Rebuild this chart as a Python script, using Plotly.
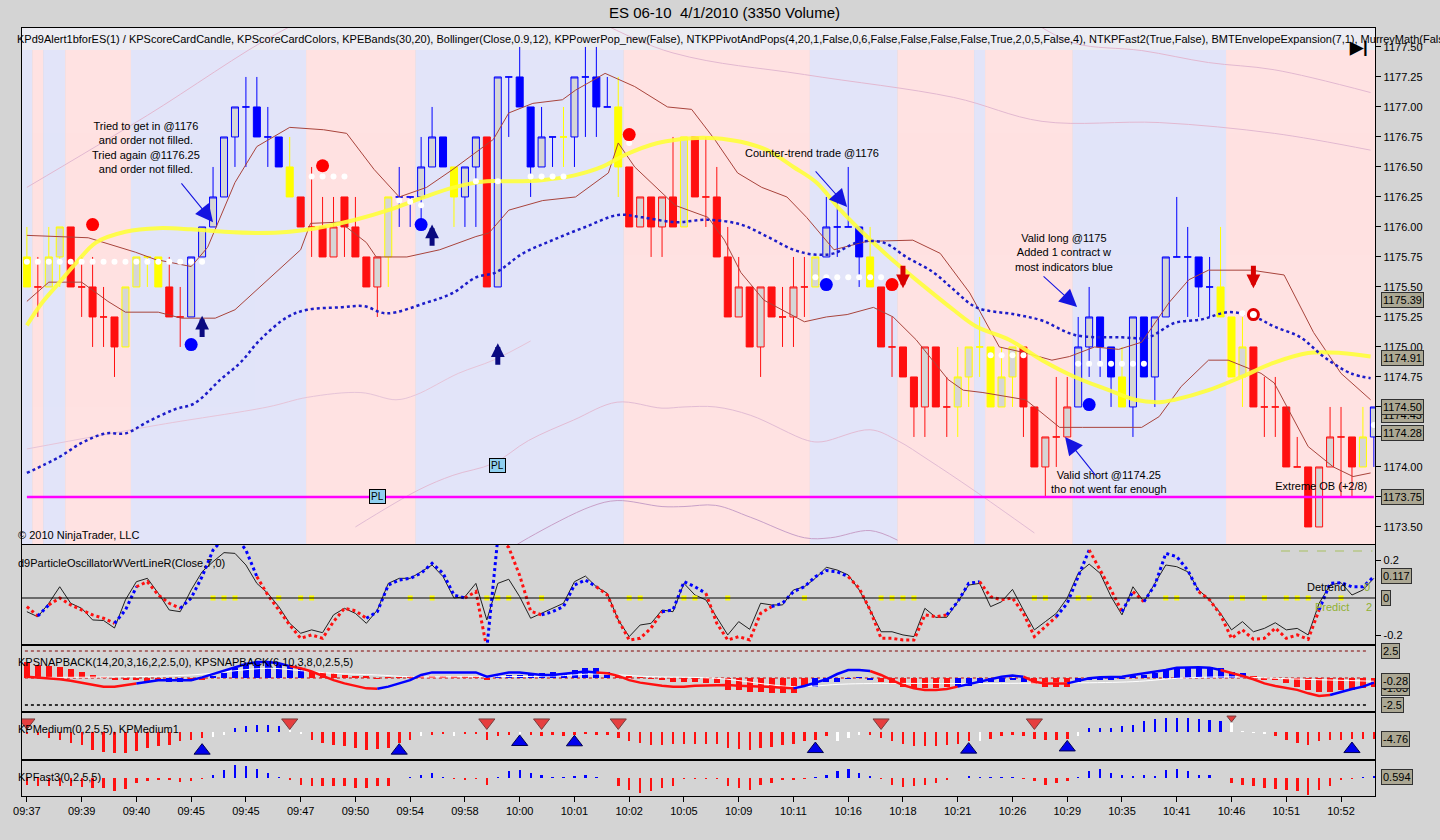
import plotly.graph_objects as go

W, H = 1440, 840
FONT = "Liberation Sans, Arial, sans-serif"

# ---------------- data ----------------
time_labels = ["09:37", "09:39", "09:40", "09:45", "09:45", "09:47", "09:50", "09:54", "09:58", "10:00",
               "10:01", "10:02", "10:05", "10:09", "10:11", "10:16", "10:18", "10:21", "10:26", "10:29",
               "10:35", "10:41", "10:46", "10:51", "10:52"]
time_label_bars = [0, 5, 10, 15, 20, 25, 30, 35, 40, 45, 50, 55, 60, 65, 70, 75, 80, 85, 90, 95,
                   100, 105, 110, 115, 120]

open_ = [1175.75, 1175.50, 1175.50, 1175.75, 1176.00, 1175.50, 1175.50, 1175.25, 1175.25, 1175.00,
         1175.50, 1175.75, 1175.75, 1175.50, 1175.25, 1175.25, 1175.75, 1176.00, 1176.25, 1176.75,
         1177.00, 1177.00, 1176.75, 1176.75, 1176.50, 1176.25, 1176.00, 1176.00, 1175.75, 1176.25,
         1176.00, 1175.75, 1175.50, 1175.75, 1176.25, 1176.25, 1176.25, 1176.50, 1176.75, 1176.50,
         1176.25, 1176.50, 1176.75, 1175.50, 1177.25, 1177.25, 1177.00, 1176.50, 1176.75, 1176.75,
         1176.75, 1177.25, 1177.25, 1177.00, 1177.00, 1176.50, 1176.00, 1176.25, 1176.00, 1176.25,
         1176.00, 1176.75, 1176.25, 1176.25, 1175.75, 1175.25, 1175.50, 1175.00, 1175.50, 1175.25,
         1175.25, 1175.50, 1175.50, 1175.75, 1176.00, 1176.00, 1176.00, 1175.75, 1175.50, 1175.00,
         1175.00, 1174.75, 1174.50, 1175.00, 1174.50, 1174.50, 1174.75, 1175.00, 1175.00, 1174.50,
         1174.75, 1175.00, 1174.50, 1174.00, 1174.25, 1174.25, 1174.50, 1175.00, 1175.25, 1175.00,
         1174.75, 1174.50, 1175.25, 1174.75, 1175.25, 1175.75, 1175.75, 1175.75, 1175.50, 1175.50,
         1175.25, 1174.75, 1175.00, 1174.50, 1174.50, 1174.50, 1174.00, 1174.00, 1173.50, 1174.00,
         1174.25, 1174.25, 1174.00, 1174.25]
high = [1176.00, 1175.75, 1176.00, 1176.00, 1176.00, 1175.75, 1175.75, 1175.50, 1175.25, 1175.50,
        1175.75, 1175.75, 1175.75, 1175.75, 1175.50, 1175.75, 1176.00, 1176.50, 1176.75, 1177.00,
        1177.25, 1177.25, 1177.00, 1176.75, 1176.75, 1176.25, 1176.50, 1176.25, 1176.25, 1176.25,
        1176.25, 1175.75, 1175.75, 1176.25, 1176.50, 1176.25, 1176.75, 1177.00, 1176.75, 1176.50,
        1176.50, 1176.75, 1176.75, 1177.25, 1177.25, 1177.50, 1177.00, 1177.00, 1176.75, 1177.00,
        1177.25, 1177.50, 1177.50, 1177.25, 1177.25, 1176.50, 1176.25, 1176.25, 1176.25, 1176.75,
        1176.75, 1176.75, 1176.75, 1176.50, 1176.00, 1175.75, 1175.50, 1175.50, 1175.50, 1175.50,
        1175.75, 1175.75, 1175.75, 1176.25, 1176.25, 1176.50, 1176.00, 1176.00, 1175.50, 1175.25,
        1175.00, 1174.75, 1175.00, 1175.00, 1174.75, 1175.00, 1175.00, 1175.25, 1175.00, 1175.00,
        1175.00, 1175.00, 1174.50, 1174.25, 1174.75, 1174.75, 1175.25, 1175.50, 1175.25, 1175.00,
        1175.00, 1175.25, 1175.25, 1175.25, 1175.75, 1176.25, 1176.00, 1175.75, 1175.75, 1176.00,
        1175.25, 1175.25, 1175.00, 1174.75, 1174.75, 1174.50, 1174.25, 1174.00, 1174.00, 1174.50,
        1174.50, 1174.25, 1174.50, 1174.50]
low = [1175.50, 1175.25, 1175.50, 1175.50, 1175.50, 1175.25, 1175.00, 1175.00, 1174.75, 1175.00,
       1175.50, 1175.50, 1175.50, 1175.25, 1175.00, 1175.25, 1175.75, 1176.00, 1176.25, 1176.50,
       1176.50, 1176.75, 1176.50, 1176.50, 1176.25, 1176.00, 1175.75, 1175.75, 1175.75, 1175.75,
       1175.75, 1175.50, 1175.25, 1175.50, 1176.00, 1176.00, 1176.00, 1176.50, 1176.50, 1176.00,
       1176.00, 1176.00, 1175.50, 1175.50, 1176.75, 1177.00, 1176.25, 1176.50, 1176.50, 1176.50,
       1176.50, 1176.75, 1176.75, 1177.00, 1176.25, 1176.00, 1176.00, 1175.75, 1175.75, 1176.00,
       1176.00, 1176.25, 1176.00, 1175.75, 1175.25, 1175.25, 1175.00, 1174.75, 1175.25, 1175.00,
       1175.00, 1175.25, 1175.50, 1175.75, 1175.75, 1176.00, 1175.50, 1175.50, 1175.00, 1174.75,
       1174.75, 1174.25, 1174.25, 1174.50, 1174.25, 1174.25, 1174.50, 1174.75, 1174.50, 1174.50,
       1174.50, 1174.25, 1174.00, 1173.75, 1174.00, 1174.25, 1174.50, 1174.75, 1174.75, 1174.50,
       1174.50, 1174.25, 1174.75, 1174.50, 1175.25, 1175.75, 1175.25, 1175.25, 1175.25, 1175.25,
       1174.75, 1174.50, 1174.50, 1174.25, 1174.25, 1174.00, 1174.00, 1173.50, 1173.50, 1174.00,
       1173.75, 1173.75, 1174.00, 1174.00]
close = [1175.50, 1175.50, 1175.75, 1176.00, 1175.50, 1175.50, 1175.25, 1175.25, 1175.00, 1175.50,
         1175.75, 1175.75, 1175.50, 1175.25, 1175.25, 1175.75, 1176.00, 1176.25, 1176.75, 1177.00,
         1177.00, 1176.75, 1176.75, 1176.50, 1176.25, 1176.00, 1176.00, 1175.75, 1176.00, 1176.00,
         1175.75, 1175.50, 1175.75, 1176.25, 1176.25, 1176.25, 1176.50, 1176.75, 1176.50, 1176.25,
         1176.50, 1176.75, 1175.50, 1177.25, 1177.25, 1177.00, 1176.50, 1176.75, 1176.75, 1176.75,
         1177.25, 1177.25, 1177.00, 1177.00, 1176.50, 1176.00, 1176.25, 1176.00, 1176.25, 1176.00,
         1176.75, 1176.25, 1176.25, 1175.75, 1175.25, 1175.50, 1175.00, 1175.50, 1175.25, 1175.25,
         1175.50, 1175.50, 1175.75, 1176.00, 1176.00, 1176.00, 1175.75, 1175.50, 1175.00, 1175.00,
         1174.75, 1174.50, 1175.00, 1174.50, 1174.50, 1174.75, 1175.00, 1175.00, 1174.50, 1174.75,
         1175.00, 1174.50, 1174.00, 1174.25, 1174.25, 1174.50, 1175.00, 1175.25, 1175.00, 1174.75,
         1174.50, 1175.25, 1174.75, 1175.25, 1175.75, 1175.75, 1175.75, 1175.50, 1175.50, 1175.25,
         1174.75, 1175.00, 1174.50, 1174.50, 1174.50, 1174.00, 1174.00, 1173.50, 1174.00, 1174.25,
         1174.25, 1174.00, 1174.25, 1174.50]
# scorecard colour of each candle: r = red, b = blue, y = yellow
candle_col = ("yryyrrrrry" "yyyrrbbbbb" "bbbbyrrrrr" "rrrybbbbby" "bbrbbbbbby" "bbbbyrrrrr"
              "yrrrrrrrrr" "rrybbbbyrr" "rrrrryyyyy" "yrrrrrbbbb" "ybbbbbbbby" "yyrrrrrrrr" "rryb")

# background regime runs (first bar, last bar, b = blue, p = pink)
band_runs = [(0, 0, "b"), (1, 1, "p"), (2, 3, "b"), (4, 9, "p"), (10, 25, "b"), (26, 35, "p"),
             (36, 54, "b"), (55, 71, "p"), (72, 79, "b"), (80, 86, "p"), (87, 87, "b"),
             (88, 95, "p"), (96, 109, "b"), (110, 123, "p")]

# overlay lines on the price panel (bar position, price)
yellow_x = [0, 1.4, 2.9, 4.5, 6.3, 9, 12, 15, 18, 21, 24, 27, 30, 33, 36, 39, 42, 44, 47, 50, 52.5,
            54.6, 57.6, 60.7, 62.8, 65.2, 67.6, 70, 72.1, 74.3, 76.7, 79.1, 81.6, 84.6, 86.7, 89.7,
            92.7, 95.7, 98.8, 101.2, 103.4, 104.8, 107.9, 110.9, 113.9, 117, 120, 122.7]
yellow_y = [1175.18, 1175.37, 1175.53, 1175.70, 1175.87, 1175.96, 1175.99, 1175.98, 1175.96, 1175.95,
            1175.96, 1176.00, 1176.06, 1176.14, 1176.24, 1176.33, 1176.38, 1176.38, 1176.39, 1176.43,
            1176.50, 1176.60, 1176.70, 1176.74, 1176.74, 1176.71, 1176.64, 1176.50, 1176.37, 1176.14,
            1175.92, 1175.72, 1175.53, 1175.31, 1175.17, 1175.06, 1174.89, 1174.75, 1174.64, 1174.56,
            1174.54, 1174.56, 1174.64, 1174.75, 1174.87, 1174.95, 1174.95, 1174.92]
bb_up_x = [0, 2.3, 5.6, 9.9, 11.7, 15, 16.5, 19, 21, 24, 27.1, 29.2, 31.7, 34, 36.5, 38.9, 41, 42.6,
           44, 46.2, 48.9, 50.1, 52.8, 55.5, 58.5, 60.7, 62.8, 64.9, 67.1, 69.4, 71.2, 73.7, 76.7,
           80.9, 83.4, 86.1, 88.8, 91.2, 93.6, 95.2, 97.5, 99.7, 101.8, 104.3, 106.1, 107.9, 111.8,
           114.8, 117.5, 120, 122.7]
bb_up_y = [1175.93, 1175.92, 1175.91, 1175.79, 1175.73, 1175.67, 1175.83, 1176.37, 1176.67, 1176.83,
           1176.81, 1176.78, 1176.48, 1176.25, 1176.33, 1176.48, 1176.62, 1176.73, 1176.95, 1177.03,
           1177.06, 1177.14, 1177.28, 1177.17, 1177.00, 1176.98, 1176.73, 1176.45, 1176.33, 1176.25,
           1176.08, 1175.81, 1175.88, 1175.89, 1175.78, 1175.45, 1175.00, 1174.95, 1174.89, 1174.92,
           1175.00, 1174.98, 1175.04, 1175.37, 1175.56, 1175.64, 1175.64, 1175.60, 1175.12, 1174.78,
           1174.56]
bb_lo_x = [0, 2, 5, 7.4, 9, 12, 14.1, 17.2, 19, 22, 25, 25.9, 28.6, 31, 31.9, 34.7, 37.7, 41, 42.2,
           44, 47.1, 50.1, 53.1, 54, 55.5, 59.2, 62.2, 63.7, 65.2, 67.3, 71, 73, 74.9, 77.3, 79.1,
           81.2, 84.1, 85.5, 87.3, 91.2, 94.3, 96.4, 101.8, 103.4, 105.4, 107.9, 109.7, 112.7, 113.9,
           117, 119.3, 121.1, 122.7]
bb_lo_y = [1175.38, 1175.54, 1175.54, 1175.38, 1175.29, 1175.29, 1175.24, 1175.24, 1175.31, 1175.56,
           1175.81, 1176.03, 1176.04, 1175.87, 1175.75, 1175.75, 1175.81, 1175.92, 1175.95, 1176.14,
           1176.22, 1176.25, 1176.45, 1176.70, 1176.50, 1176.18, 1176.08, 1175.89, 1175.62, 1175.39,
           1175.21, 1175.25, 1175.27, 1175.33, 1175.25, 1175.06, 1174.73, 1174.64, 1174.62, 1174.56,
           1174.33, 1174.33, 1174.33, 1174.42, 1174.67, 1174.89, 1174.89, 1174.78, 1174.70, 1174.17,
           1174.00, 1173.92, 1173.95]
blue_ma_x = [0, 2.9, 5, 7.2, 9, 11.1, 13.5, 15.3, 17.7, 19.5, 21.3, 23.8, 25.6, 28.6, 30.8, 32.8,
             36.5, 38.9, 41, 42.8, 45.3, 48, 51, 54, 56.2, 59.2, 62.2, 65.2, 67.6, 70, 71.9, 73.7,
             75.8, 78.2, 80.3, 82.8, 84.6, 86.7, 90.3, 92.7, 95.7, 100, 102.4, 104.8, 107.3, 109.7,
             112.1, 113.9, 116.3, 118.4, 120.9, 122.7]
blue_ma_y = [1173.95, 1174.08, 1174.20, 1174.28, 1174.28, 1174.38, 1174.48, 1174.53, 1174.73, 1174.87,
             1175.06, 1175.25, 1175.31, 1175.33, 1175.34, 1175.28, 1175.37, 1175.45, 1175.58, 1175.62,
             1175.78, 1175.89, 1176.00, 1176.10, 1176.08, 1176.04, 1176.06, 1176.02, 1175.92, 1175.81,
             1175.77, 1175.78, 1175.87, 1175.87, 1175.75, 1175.62, 1175.48, 1175.33, 1175.27, 1175.22,
             1175.10, 1175.08, 1175.08, 1175.20, 1175.23, 1175.29, 1175.25, 1175.17, 1175.08, 1174.92,
             1174.78, 1174.74]
# faint envelope lines
env_u1_x = [0, 11, 23, 30, 45, 59, 71, 84.6, 92.7, 103.4, 113.9, 122.7]
env_u1_y = [1176.33, 1176.93, 1177.62, 1177.90, 1177.95, 1177.45, 1177.27, 1177.08, 1176.88, 1176.87,
            1176.78, 1176.64]
env_u2_x = [92, 95.7, 101.8, 107.9, 113.9, 122.7]
env_u2_y = [1177.70, 1177.53, 1177.47, 1177.37, 1177.31, 1177.12]
env_l1_x = [0, 12, 22, 25.6, 30.5, 33.7, 35.5, 39.4, 42.6, 46]
env_l1_y = [1174.15, 1174.35, 1174.50, 1174.58, 1174.62, 1174.56, 1174.60, 1174.78, 1174.89, 1175.05]
env_l2_x = [30, 35.8, 38.9, 42.6, 45.8, 49.9, 53.9, 58, 60, 62.9, 66.1, 71.3, 72.6, 77, 79.5, 82.3,
            86.4, 92]
env_l2_y = [1173.50, 1173.81, 1173.93, 1174.03, 1174.22, 1174.39, 1174.54, 1174.49, 1174.50, 1174.50,
            1174.43, 1174.22, 1174.21, 1174.31, 1174.22, 1174.06, 1173.81, 1173.45]
env_l3_x = [43, 45.8, 51.5, 53.9, 58, 60, 62.9, 66.1, 71, 73.4, 77, 79.5]
env_l3_y = [1173.25, 1173.41, 1173.67, 1173.72, 1173.67, 1173.67, 1173.68, 1173.58, 1173.41, 1173.41,
            1173.47, 1173.39]
pivot_level = 1173.75

# signal markers
red_dot_x, red_dot_y = [6, 27, 55, 79], [1176.02, 1176.51, 1176.77, 1175.52]
blue_dot_x, blue_dot_y = [15, 36, 73, 97], [1175.02, 1176.02, 1175.52, 1174.52]
ring_x, ring_y = [112], [1175.27]
stop_dot_x = [0, 1, 2, 3, 4, 5, 6, 7, 8, 9, 10, 11, 12, 13, 14, 15, 16, 26, 27, 28, 29, 34, 35, 36,
              41, 43, 46, 47, 48, 49, 55, 72, 73, 74, 75, 76, 77, 78, 88, 89, 90, 91, 96, 97, 98,
              99, 100, 101, 102, 111, 123]
stop_dot_y = [1175.71] * 17 + [1176.42] * 4 + [1176.22, 1176.21, 1176.18] + [1176.38] * 2 + \
             [1176.42] * 4 + [1176.70] + [1175.58] * 7 + [1174.93] * 4 + [1174.86] * 7 + [1175.28, 1174.35]
up_arrows = [(16, 1175.26, 1175.07), (37, 1176.02, 1175.83), (43, 1175.03, 1174.84)]   # bar, tip, tail
down_arrows = [(80, 1175.49, 1175.69), (112, 1175.49, 1175.69)]
pl_marks = [(43, 1174.01), (32, 1173.75)]
price_tags = [1175.39, 1174.91, 1174.43, 1174.50, 1174.28, 1173.75]

# d9 particle oscillator
osc_line = [-0.073, -0.10, -0.028, 0.06, -0.028, -0.055, -0.117, -0.12, -0.16, -0.01,
            0.087, 0.105, 0.025, -0.064, -0.073, 0.043, 0.14, 0.194, 0.242, 0.238,
            0.176, 0.078, 0.025, -0.046, -0.135, -0.188, -0.17, -0.185, -0.09, -0.055,
            -0.082, -0.135, -0.064, 0.078, 0.105, 0.105, 0.14, 0.176, 0.114, 0.0,
            0.007, 0.078, -0.117, 0.078, 0.10, 0.007, -0.108, -0.082, -0.055, -0.028,
            0.087, 0.117, 0.06, 0.025, -0.117, -0.206, -0.144, -0.135, -0.064, -0.073,
            0.078, 0.016, -0.01, -0.10, -0.197, -0.126, -0.167, -0.028, -0.037, -0.037,
            0.043, 0.06, 0.105, 0.164, 0.149, 0.123, 0.043, -0.064, -0.18, -0.18,
            -0.197, -0.206, -0.055, -0.103, -0.103, -0.02, 0.069, 0.078, -0.046, -0.02,
            0.046, -0.064, -0.17, -0.126, -0.082, 0.0, 0.132, 0.181, 0.132, 0.007,
            -0.09, 0.06, -0.02, 0.078, 0.176, 0.167, 0.14, 0.043, -0.01, -0.082,
            -0.17, -0.126, -0.18, -0.162, -0.132, -0.17, -0.162, -0.197, -0.028, 0.069,
            0.082, 0.016, 0.043, 0.105]
osc_dots = [-0.046, -0.096, -0.037, 0.0, -0.037, -0.064, -0.09, -0.108, -0.135, -0.064,
            0.06, 0.087, 0.016, -0.028, -0.055, 0.0, 0.114, 0.256, 0.32, 0.33,
            0.256, 0.114, 0.016, -0.064, -0.144, -0.215, -0.197, -0.215, -0.126, -0.055,
            -0.068, -0.108, -0.073, 0.069, 0.096, 0.105, 0.132, 0.185, 0.132, 0.016,
            0.0, 0.034, -0.27, 0.32, 0.27, 0.12, -0.07, -0.09, -0.073, -0.046,
            0.069, 0.096, 0.06, 0.016, -0.117, -0.224, -0.215, -0.16, -0.073, -0.064,
            0.087, 0.06, 0.025, -0.135, -0.224, -0.206, -0.224, -0.082, -0.046, -0.028,
            0.034, 0.06, 0.114, 0.146, 0.14, 0.114, 0.052, -0.064, -0.215, -0.215,
            -0.224, -0.224, -0.09, -0.1, -0.09, -0.02, 0.078, 0.087, 0.007, -0.01,
            0.0, -0.082, -0.206, -0.153, -0.1, -0.028, 0.114, 0.256, 0.15, 0.043,
            -0.073, 0.034, -0.02, 0.069, 0.238, 0.22, 0.149, 0.034, -0.01, -0.09,
            -0.215, -0.17, -0.22, -0.215, -0.16, -0.215, -0.197, -0.22, -0.064, 0.078,
            0.082, 0.06, 0.06, 0.114]
osc_dots_col = ("rrbrrrrrrb" "brrrrbbbbb" "bbrrrrrrrr" "rrbbbbbbbb" "brrbrrrrbb" "bbbrrrrrrb"
                "bbbrrrrrrb" "bbbbbbrrrr" "rrrrrbbbrr" "rrrrrbbbrr" "rbrbbbbbrr" "rrrrrrrrrb" "bbbb")
osc_flag_bars = [17, 18, 19, 23, 25, 26, 35, 37, 42, 43, 44, 47, 55, 56, 60, 61, 64, 71, 78, 79, 80,
                 81, 92, 93, 96, 97, 104, 105, 110, 111, 113, 115, 116, 117, 120]

# KPSNAPBACK
snap_hist = [1.5, 1.2, 1.1, 1.05, 0.8, 0.6, 0.28, 0.05, -0.2, -0.2,
             -0.2, -0.25, -0.3, -0.35, -0.4, -0.3, -0.1, 0.2, 0.43, 0.9,
             1.2, 1.4, 1.5, 1.4, 1.2, 0.96, 0.6, 0.6, 0.43, 0.28,
             0.2, 0.12, -0.05, 0.05, 0.06, 0.12, 0.2, 0.2, 0.12, 0.12,
             0.12, 0.12, -0.12, 0.2, 0.28, 0.28, 0.43, 0.43, 0.6, 0.5,
             0.74, 0.96, 0.9, 0.6, 0.12, 0.12, 0.06, -0.05, -0.2, -0.35,
             -0.35, -0.35, -0.43, -0.5, -1.1, -1.1, -1.27, -1.27, -1.36, -1.36,
             -1.42, -0.8, -0.8, -0.34, -0.34, -0.05, 0.05, -0.12, -0.34, -0.5,
             -0.8, -0.96, -0.96, -0.96, -0.8, -0.8, -0.74, -0.5, -0.34, -0.34,
             -0.2, -0.34, -0.56, -0.8, -0.8, -0.8, -0.34, -0.2, -0.12, -0.12,
             -0.05, 0.12, 0.28, 0.43, 0.74, 1.05, 1.05, 1.05, 1.0, 0.9,
             0.6, 0.43, 0.12, -0.12, -0.2, -0.5, -0.8, -1.1, -1.27, -1.27,
             -1.1, -1.1, -0.96, -0.8]
snap_hist_col = ("rrrrrrrrrr" "rrrbbrrbbb" "bbbbbbrrrr" "rrrrrrrrrr" "rrrbbbbbbb" "bbbbrrrrrr"
                 "rrrrrrrrrr" "rrbbbbbbrr" "rrrrrbbbbb" "bbrrrrbbbb" "bbbbbbbbbb" "bbrrrrrrrr" "rrrr")
snap_line = [0.12, 0.06, -0.03, -0.12, -0.25, -0.43, -0.65, -0.8, -0.8, -0.65,
             -0.5, -0.34, -0.2, -0.2, -0.2, -0.2, 0.06, 0.37, 0.68, 1.0,
             1.3, 1.48, 1.48, 1.36, 1.1, 0.9, 0.6, 0.2, -0.2, -0.5,
             -0.74, -0.96, -1.0, -0.8, -0.5, -0.2, 0.28, 0.52, 0.52, 0.5,
             0.5, 0.52, 0.12, 0.34, 0.5, 0.5, 0.37, 0.28, 0.28, 0.37,
             0.5, 0.6, 0.52, 0.43, 0.2, -0.2, -0.43, -0.59, -0.71, -0.8,
             -0.8, -0.71, -0.68, -0.65, -0.65, -0.71, -0.74, -0.8, -0.83, -0.9,
             -0.96, -0.74, -0.43, -0.12, 0.37, 0.74, 0.74, 0.65, 0.28, -0.2,
             -0.65, -0.96, -1.1, -1.1, -1.02, -0.8, -0.56, -0.31, -0.12, 0.12,
             0.22, 0.12, -0.34, -0.5, -0.5, -0.5, -0.25, -0.03, 0.06, 0.12,
             0.12, 0.28, 0.43, 0.59, 0.74, 0.96, 0.99, 0.99, 0.96, 0.74,
             0.5, 0.19, -0.12, -0.5, -0.74, -0.9, -1.1, -1.42, -1.67, -1.58,
             -1.27, -1.02, -0.8, -0.43]
snap_line_col = ("rrrrrrrrrr" "rbbbbbbbbb" "bbbbbrrrrr" "rrrbbbbbbb" "bbbbbbbbbb" "bbbrrrrrrr"
                 "rrrrrrrrrr" "rbbbbbbbrr" "rrrrrrbbbb" "bbrrrrbbbb" "bbbbbbbbbb" "rrrrrrrrrr" "bbbb")
snap_slow_x = [0, 8, 15, 22, 25, 28, 32, 35, 40, 48, 52, 57, 63, 70, 75, 89, 101, 105, 110, 116, 123]
snap_slow_y = [0.05, 0.1, 0.28, 0.9, 0.68, 0.43, 0.28, 0.12, 0.12, 0.18, 0.37, 0.12, -0.03, -0.8,
               -0.55, -0.5, -0.34, -0.03, 0.1, -0.1, -0.3]

# KPMedium
med_vals = [-0.7, -1.8, -4.1, -5.2, -7.5, -8.6, -12, -13.8, -14.3, -14.3,
            -13.2, -10.9, -9.8, -8.6, -6.3, -5.2, -4.1, -3.5, -2.0, 2.7,
            4.3, 5.0, 5.0, 3.9, 1.6, -0.7, -5.2, -7.5, -8.6, -9.8,
            -10.9, -12, -11.6, -10.9, -7.5, -5.2, -2.9, -1.8, -0.7, -2.9,
            -0.7, -0.7, -5.2, -2.9, -1.8, -0.7, -1.8, -2.9, -1.8, -2.5,
            -1.8, -0.7, -1.8, -1.8, -4.1, -6.3, -7.5, -8.6, -8.6, -7.9,
            -7.9, -7.9, -7.9, -7.9, -10.9, -11.6, -12, -10.9, -10.2, -8.6,
            -7.9, -6.3, -5.2, -2.9, -6.0, -4.1, -2.0, -1.8, -4.1, -6.3,
            -7.9, -9.3, -9.8, -9.3, -8.6, -7.9, -6.3, -6.3, -4.8, -2.9,
            -1.8, -2.9, -4.8, -5.2, -5.2, -4.8, -3.0, 2.7, 2.7, 2.7,
            3.9, 5.0, 7.3, 8.8, 9.5, 9.5, 9.5, 8.8, 8.4, 7.3,
            6.1, 0.5, -0.2, -0.7, -2.9, -5.2, -7.5, -8.6, -6.3, -5.2,
            -5.2, -4.8, -4.8, -4.76]
med_col = ("rrrrrrrrrr" "rrrrrrrwwb" "bbbbwwrrrr" "rrrrrrwrrw" "rrrrrwrrrr" "rrrrrrrrrr"
           "rrrrrrrrrr" "rrrrwwwrrr" "rrrrrrrwrr" "rrrrrrwbbb" "bbbbbbbbbb" "wwwwrrrrrr" "rrrr")
med_sell_x, med_sell_y = [0, 24, 42, 47, 54, 78, 92, 110], [6.5, 6.5, 6.5, 6.5, 6.5, 6.5, 6.5, 9.5]
med_buy_x = [16, 34, 45, 50, 72, 86, 95, 121]
med_buy_y = [-12.7, -12.7, -6.8, -7.0, -11.6, -12.0, -10.5, -11.6]

# KPFast3
fast_vals = [-0.33, -0.38, -0.42, -0.42, -0.42, -0.45, -0.5, -0.5, -0.67, -0.55,
             -0.25, -0.17, -0.08, -0.12, -0.22, -0.17, -0.05, 0.17, 0.42, 0.67,
             0.62, 0.45, 0.25, 0.05, -0.08, -0.33, -0.42, -0.42, -0.42, -0.42,
             -0.5, -0.5, -0.42, -0.42, 0.0, 0.05, 0.17, 0.25, 0.05, -0.05,
             -0.12, -0.05, -0.33, 0.05, 0.33, 0.42, 0.25, 0.17, 0.05, 0.05,
             0.12, 0.17, 0.05, 0.0, -0.42, -0.58, -0.75, -0.67, -0.5, -0.42,
             -0.05, -0.05, -0.05, -0.05, -0.42, -0.5, -0.58, -0.33, -0.25, -0.12,
             -0.12, -0.05, 0.05, 0.17, 0.33, 0.45, 0.25, 0.08, -0.05, -0.33,
             -0.45, -0.42, -0.33, -0.25, -0.12, 0.0, 0.08, 0.05, 0.05, 0.05,
             0.05, -0.05, -0.17, -0.33, -0.25, -0.17, 0.05, 0.33, 0.45, 0.25,
             0.17, 0.12, 0.17, 0.12, 0.42, 0.45, 0.33, 0.17, 0.17, 0.0,
             -0.25, -0.33, -0.42, -0.5, -0.55, -0.62, -0.67, -0.83, -0.62, -0.42,
             -0.12, -0.05, 0.05, 0.08]

# ---------------- layout helpers ----------------
bars = list(range(len(close)))
XR = [-0.454, 123.14]
XDOM = [13 / W, 1375 / W]


def py(px):
    return 1 - px / H


def ydom(top, bot):
    return [py(bot), py(top)]


RED, BLUE, YEL, GREY = "#ff1010", "#0000ff", "#ffff00", "#d6d6d6"
cmap = {"r": RED, "b": BLUE, "y": YEL, "w": "#ffffff"}

fig = go.Figure()


def colored_runs(xs, ys, cols, width, dash, xa, ya):
    j = 1
    while j < len(ys):
        c = cols[j]
        k = j
        while k + 1 < len(ys) and cols[k + 1] == c:
            k += 1
        fig.add_trace(go.Scatter(x=xs[j - 1:k + 1], y=ys[j - 1:k + 1], mode="lines",
                                 line=dict(color=cmap[c], width=width, dash=dash),
                                 xaxis=xa, yaxis=ya, hoverinfo="skip"))
        j = k + 1


def faint(xs, ys, color):
    fig.add_trace(go.Scatter(x=xs, y=ys, mode="lines", line=dict(color=color, width=1, shape="spline"),
                             hoverinfo="skip"))


# ---------------- price panel ----------------
faint(env_u1_x, env_u1_y, "#e2b8d0")
faint(env_u2_x, env_u2_y, "#e2b8d0")
faint(env_l1_x, env_l1_y, "#e6c4d8")
faint(env_l2_x, env_l2_y, "#e2bcd4")
faint(env_l3_x, env_l3_y, "#c8a0c8")

fig.add_trace(go.Scatter(x=[bars[0], bars[-1]], y=[pivot_level, pivot_level], mode="lines",
                         line=dict(color="#ff00ff", width=2.5), hoverinfo="skip"))
fig.add_trace(go.Scatter(x=[122.4], y=[1173.83], mode="text", text=["Extreme OB (+2/8)"],
                         textposition="middle left", textfont=dict(family=FONT, size=11, color="black"),
                         hoverinfo="skip"))

for code in "rby":
    idx = [i for i in bars if candle_col[i] == code]
    fig.add_trace(go.Candlestick(
        x=idx, open=[open_[i] for i in idx], high=[high[i] for i in idx],
        low=[low[i] for i in idx], close=[close[i] for i in idx],
        increasing=dict(line=dict(color=cmap[code], width=1), fillcolor=GREY),
        decreasing=dict(line=dict(color=cmap[code], width=1), fillcolor=cmap[code]),
        whiskerwidth=0, hoverinfo="skip", showlegend=False))

fig.add_trace(go.Scatter(x=bb_up_x, y=bb_up_y, mode="lines", line=dict(color="#a8443c", width=1),
                         hoverinfo="skip"))
fig.add_trace(go.Scatter(x=bb_lo_x, y=bb_lo_y, mode="lines", line=dict(color="#a8443c", width=1),
                         hoverinfo="skip"))
fig.add_trace(go.Scatter(x=yellow_x, y=yellow_y, mode="lines",
                         line=dict(color="#ffff3a", width=4, shape="spline"), opacity=0.9, hoverinfo="skip"))
fig.add_trace(go.Scatter(x=blue_ma_x, y=blue_ma_y, mode="lines",
                         line=dict(color="#1c1cc8", width=2.5, dash="dot", shape="spline"), hoverinfo="skip"))

fig.add_trace(go.Scatter(x=stop_dot_x, y=stop_dot_y, mode="markers",
                         marker=dict(color="white", size=6, line=dict(width=0)), hoverinfo="skip"))
fig.add_trace(go.Scatter(x=red_dot_x, y=red_dot_y, mode="markers",
                         marker=dict(color="#ff0000", size=13, line=dict(width=0)), hoverinfo="skip"))
fig.add_trace(go.Scatter(x=blue_dot_x, y=blue_dot_y, mode="markers",
                         marker=dict(color="#0000ff", size=13, line=dict(width=0)), hoverinfo="skip"))
fig.add_trace(go.Scatter(x=ring_x, y=ring_y, mode="markers",
                         marker=dict(color="white", size=10, line=dict(width=3, color="#e00000")),
                         hoverinfo="skip"))

# ---------------- d9 particle oscillator ----------------
fig.add_trace(go.Scatter(x=bars, y=osc_line, mode="lines", line=dict(color="#202020", width=1),
                         xaxis="x2", yaxis="y2", hoverinfo="skip"))
colored_runs(bars, osc_dots, osc_dots_col, 3, "dot", "x2", "y2")
fig.add_trace(go.Scatter(x=osc_flag_bars, y=[0] * len(osc_flag_bars), mode="markers",
                         marker=dict(symbol="square", color=YEL, size=5), xaxis="x2", yaxis="y2",
                         hoverinfo="skip"))

# ---------------- KPSNAPBACK ----------------
fig.add_trace(go.Bar(x=bars, y=snap_hist, width=0.55, marker=dict(color=[cmap[c] for c in snap_hist_col],
                     line=dict(width=0)), xaxis="x3", yaxis="y3", hoverinfo="skip"))
fig.add_trace(go.Scatter(x=snap_slow_x, y=snap_slow_y, mode="lines",
                         line=dict(color="white", width=1, shape="spline"), xaxis="x3", yaxis="y3",
                         hoverinfo="skip"))
colored_runs(bars, snap_line, snap_line_col, 2.5, "solid", "x3", "y3")

# ---------------- KPMedium ----------------
fig.add_trace(go.Bar(x=bars, y=med_vals, width=0.22, marker=dict(color=[cmap[c] for c in med_col],
                     line=dict(width=0)), xaxis="x4", yaxis="y4", hoverinfo="skip"))
fig.add_trace(go.Scatter(x=med_sell_x, y=med_sell_y, mode="markers",
                         marker=dict(symbol="triangle-down", size=[14] * 7 + [8], color="#ee0000",
                                     line=dict(color="#500000", width=1)),
                         xaxis="x4", yaxis="y4", hoverinfo="skip"))
fig.add_trace(go.Scatter(x=med_buy_x, y=med_buy_y, mode="markers",
                         marker=dict(symbol="triangle-up", size=14, color="#0000ee",
                                     line=dict(color="#000050", width=1)),
                         xaxis="x4", yaxis="y4", hoverinfo="skip"))

# ---------------- KPFast3 ----------------
fig.add_trace(go.Bar(x=bars, y=fast_vals, width=0.22,
                     marker=dict(color=[BLUE if v > 0 else RED for v in fast_vals], line=dict(width=0)),
                     xaxis="x5", yaxis="y5", hoverinfo="skip"))

# ---------------- axes ----------------
axis_common = dict(showgrid=False, zeroline=False, showline=True, mirror=True, linecolor="black",
                   linewidth=1, fixedrange=True)
price_ticks = [1173.5 + 0.25 * k for k in range(17)]
fig.update_layout(
    xaxis=dict(domain=XDOM, range=XR, anchor="y", showticklabels=False, rangeslider=dict(visible=False),
               **axis_common),
    xaxis2=dict(domain=XDOM, range=XR, anchor="y2", matches="x", showticklabels=False, **axis_common),
    xaxis3=dict(domain=XDOM, range=XR, anchor="y3", matches="x", showticklabels=False, **axis_common),
    xaxis4=dict(domain=XDOM, range=XR, anchor="y4", matches="x", showticklabels=False, **axis_common),
    xaxis5=dict(domain=XDOM, range=XR, anchor="y5", matches="x", tickvals=time_label_bars,
                ticktext=time_labels, ticks="outside", ticklen=5, tickcolor="black",
                tickfont=dict(family=FONT, size=11, color="black"), **axis_common),
    yaxis=dict(domain=ydom(28, 544), range=[1173.358, 1177.658], anchor="x", side="right",
               tickvals=price_ticks, ticktext=["%.2f" % v for v in price_ticks], ticks="outside",
               ticklen=5, tickcolor="black", tickfont=dict(family=FONT, size=11, color="black"),
               **axis_common),
    yaxis2=dict(domain=ydom(545, 644), range=[-0.2453, 0.2827], anchor="x2", side="right",
                tickvals=[-0.2, 0.2], ticktext=["-0.2", "0.2"], ticks="outside", ticklen=5,
                tickcolor="black", tickfont=dict(family=FONT, size=11, color="black"), **axis_common),
    yaxis3=dict(domain=ydom(646, 711), range=[-3.056, 2.963], anchor="x3", side="right",
                showticklabels=False, **axis_common),
    yaxis4=dict(domain=ydom(713, 759), range=[-18.37, 12.93], anchor="x4", side="right",
                showticklabels=False, **axis_common),
    yaxis5=dict(domain=ydom(761, 796), range=[-0.9, 0.85], anchor="x5", side="right",
                showticklabels=False, **axis_common),
)

# ---------------- shapes ----------------
shapes = []
band_color = {"b": "#e2e4f9", "p": "#ffe2e2"}
for s, e, c in band_runs:
    shapes.append(dict(type="rect", xref="x", yref="y", x0=s - 0.5, x1=e + 0.5, y0=1173.358, y1=1177.475,
                       fillcolor=band_color[c], line=dict(width=0), layer="below"))
shapes.append(dict(type="rect", xref="paper", yref="paper", x0=XDOM[0], x1=XDOM[1], y0=py(50), y1=py(28),
                   fillcolor="#ececf2", line=dict(width=0), layer="below"))
shapes.append(dict(type="line", xref="paper", yref="y2", x0=XDOM[0], x1=XDOM[1], y0=0, y1=0,
                   line=dict(color="black", width=1)))
shapes.append(dict(type="line", xref="paper", yref="y3", x0=16 / W, x1=1368 / W, y0=2.5, y1=2.5,
                   line=dict(color="#800000", width=1, dash="dot")))
shapes.append(dict(type="line", xref="paper", yref="y3", x0=16 / W, x1=1368 / W, y0=0, y1=0,
                   line=dict(color="#c00000", width=1, dash="dot"), layer="below"))
shapes.append(dict(type="line", xref="paper", yref="y3", x0=16 / W, x1=1368 / W, y0=-2.5, y1=-2.5,
                   line=dict(color="#303030", width=2, dash="dot")))
shapes.append(dict(type="line", xref="paper", yref="paper", x0=1280 / W, x1=1372 / W, y0=py(551),
                   y1=py(551), line=dict(color="#a8c060", width=1, dash="dash")))

# ---------------- annotations ----------------
ann = []


def txt(x, y, s, size=11, color="black", xanchor="center", xref="paper", yref="paper", **kw):
    ann.append(dict(x=x, y=y, xref=xref, yref=yref, text=s, showarrow=False, xanchor=xanchor,
                    yanchor="middle", font=dict(family=FONT, size=size, color=color), **kw))


txt(0.5, py(13), "ES 06-10  4/1/2010 (3350 Volume)", size=15)
txt(6 / W, py(39), "KPd9Alert1bforES(1) / KPScoreCardCandle, KPScoreCardColors, KPEBands(30,20), "
    "Bollinger(Close,0.9,12), KPPowerPop_new(False), NTKPPivotAndPops(4,20,1,False,0,6,False,False,"
    "False,False,True,2,0,5,False,4), NTKPFast2(True,False), BMTEnvelopeExpansion(7,1), "
    "MurreyMath(False,Daily)", size=11, xanchor="left")
txt(1358 / W, py(47), "<b>▶|</b>", size=17)
txt(7 / W, py(535), "© 2010 NinjaTrader, LLC", xanchor="left")
txt(7 / W, py(563), "d9ParticleOscillatorWVertLineR(Close,7,0)", xanchor="left")
txt(7 / W, py(662), "KPSNAPBACK(14,20,3,16,2,2.5,0), KPSNAPBACK(6,10,3,8,0,2.5,5)", xanchor="left")
txt(7 / W, py(729), "KPMedium(0,2.5,5), KPMedium1", xanchor="left")
txt(7 / W, py(777), "KPFast3(0,2.5,5)", xanchor="left")
txt(1304 / W, py(587), "Detrend", xanchor="left")
txt(1362 / W, py(587), "0", color="#90b030", xanchor="left")
txt(1312 / W, py(607), "Predict", color="#90b030", xanchor="left")
txt(1364 / W, py(607), "2", color="#90b030", xanchor="left")

# trade notes
txt(10.9, 1176.66, "Tried to get in @1176<br>and order not filled.<br>Tried again @1176.25<br>and order not filled.",
    xref="x", yref="y")
txt(71.7, 1176.62, "Counter-trend trade @1176", xref="x", yref="y")
txt(94.7, 1175.79, "Valid long @1175<br>Added 1 contract w<br>most indicators blue", xref="x", yref="y")
txt(98.8, 1173.875, "Valid short @1174.25<br>tho not went far enough", xref="x", yref="y")
note_arrows = [(17.0, 1176.04, 14.0, 1176.375), (74.9, 1176.167, 71.9, 1176.475),
               (95.9, 1175.333, 92.7, 1175.6), (94.8, 1174.25, 97.7, 1173.917)]
for hx, hy, tx, ty in note_arrows:
    ann.append(dict(x=hx, y=hy, ax=tx, ay=ty, xref="x", yref="y", axref="x", ayref="y", text="",
                    showarrow=True, arrowhead=2, arrowsize=3.2, arrowwidth=1.1, arrowcolor="#1414e0",
                    standoff=0))
for b, tip, tail in up_arrows:
    ann.append(dict(x=b, y=tip, ax=b, ay=tail, xref="x", yref="y", axref="x", ayref="y", text="",
                    showarrow=True, arrowhead=2, arrowsize=0.55, arrowwidth=5, arrowcolor="#0a0a80",
                    standoff=0))
for b, tip, tail in down_arrows:
    ann.append(dict(x=b, y=tip, ax=b, ay=tail, xref="x", yref="y", axref="x", ayref="y", text="",
                    showarrow=True, arrowhead=2, arrowsize=0.55, arrowwidth=5, arrowcolor="#d80000",
                    standoff=0))
for b, p in pl_marks:
    ann.append(dict(x=b, y=p, xref="x", yref="y", text="PL", showarrow=False, bgcolor="#90d0f0",
                    bordercolor="#000000", borderwidth=1, borderpad=1,
                    font=dict(family=FONT, size=10, color="black")))


def tag(s, y, yref):
    ann.append(dict(x=1381 / W, y=y, xref="paper", yref=yref, text=s, showarrow=False, xanchor="left",
                    yanchor="middle", bgcolor="#aca894", bordercolor="#303030", borderwidth=1, borderpad=1,
                    font=dict(family=FONT, size=11, color="black")))


for v in price_tags:
    tag("%.2f" % v, v, "y")
tag("0.117", 0.117, "y2")
tag("0", 0, "y2")
tag("2.5", 2.5, "y3")
tag("-1.03", -0.95, "y3")
tag("-0.28", -0.28, "y3")
tag("-2.5", -2.5, "y3")
tag("-4.76", -4.76, "y4")
tag("0.594", py(777), "paper")

fig.update_layout(
    width=W, height=H, margin=dict(l=0, r=0, t=0, b=0),
    paper_bgcolor="#d4d4d4", plot_bgcolor="#d4d4d4",
    showlegend=False, hovermode=False, boxgap=0.36, boxgroupgap=0, bargap=0,
    font=dict(family=FONT, size=11, color="black"),
    shapes=shapes, annotations=ann,
)

# the page's default body margin would push the 1440x840 figure off the window
fig.write_html("out.html", config={"displayModeBar": False},
               post_script="document.body.style.margin='0px';"
                           "document.body.style.overflow='hidden';")
